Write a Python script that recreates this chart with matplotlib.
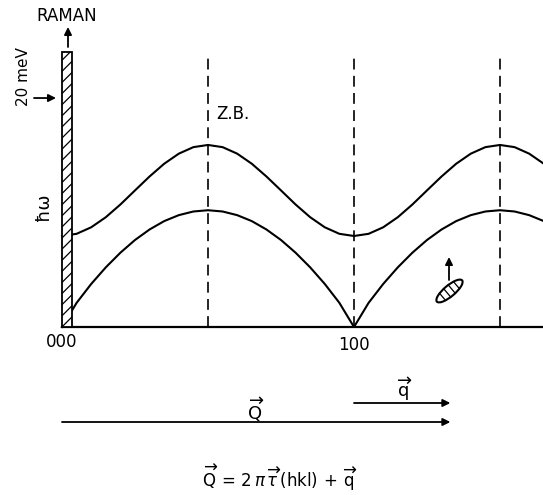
import numpy as np
import matplotlib
matplotlib.use('Agg')
import matplotlib.pyplot as plt
from matplotlib.patches import Rectangle, Ellipse
from matplotlib.transforms import blended_transform_factory

plt.rcParams['font.family'] = ['DejaVu Sans']
plt.rcParams['mathtext.fontset'] = 'dejavusans'
plt.rcParams['hatch.linewidth'] = 0.9

# wavevector along [h00], reciprocal lattice units
q_rlu = [0.00, 0.05, 0.10, 0.15, 0.20, 0.25, 0.30, 0.35, 0.40, 0.45, 0.50,
         0.55, 0.60, 0.65, 0.70, 0.75, 0.80, 0.85, 0.90, 0.95, 1.00,
         1.05, 1.10, 1.15, 1.20, 1.25, 1.30, 1.35, 1.40, 1.45, 1.50,
         1.55, 1.60, 1.65]

# phonon energies (meV)
acoustic_mev = [0.00, 2.11, 3.76, 5.21, 6.49, 7.60, 8.52, 9.25, 9.77, 10.09, 10.20,
                10.09, 9.77, 9.25, 8.52, 7.60, 6.49, 5.21, 3.76, 2.11, 0.00,
                2.11, 3.76, 5.21, 6.49, 7.60, 8.52, 9.25, 9.77, 10.09, 10.20,
                10.09, 9.77, 9.25]
optical_mev = [7.95, 8.14, 8.71, 9.59, 10.70, 11.93, 13.15, 14.26, 15.14, 15.71, 15.90,
               15.71, 15.14, 14.26, 13.15, 11.93, 10.70, 9.59, 8.71, 8.14, 7.95,
               8.14, 8.71, 9.59, 10.70, 11.93, 13.15, 14.26, 15.14, 15.71, 15.90,
               15.71, 15.14, 14.26]

zone_boundaries = [0.5, 1.0, 1.5]
zb_top_mev = 23.75
tau_h = 1.0          # reciprocal lattice point (100)
q_h = 0.33           # reduced wavevector of the measured phonon
raman_q = 0.034      # width of the region reached by Raman scattering
raman_top_mev = 24.0
ref_mev = 20.0

fig = plt.figure(figsize=(5.43, 4.95), dpi=100)

# physical axes: q in r.l.u., energy in meV
ax = fig.add_axes([0, 0, 1, 1])
ax.set_xlim(-0.2123, 1.6473)
ax.set_ylim(-14.67, 28.56)
ax.axis('off')

# overlay in pixel units for the lettering
ov = fig.add_axes([0, 0, 1, 1], zorder=3)
ov.set_xlim(0, 543)
ov.set_ylim(495, 0)
ov.axis('off')
ov.patch.set_alpha(0)

# dispersion branches
ax.plot(q_rlu, acoustic_mev, color='k', lw=1.5, zorder=2)
ax.plot(q_rlu, optical_mev, color='k', lw=1.5, zorder=2)

# q axis
ax.plot([0, 1.6473], [0, 0], color='k', lw=1.6, zorder=2)

# zone boundaries / reciprocal lattice points
for zb in zone_boundaries:
    ax.plot([zb, zb], [0, zb_top_mev], color='k', lw=1.2,
            ls=(0, (6.5, 3.8)), zorder=1)

# Raman window
ax.add_patch(Rectangle((0, 0), raman_q, raman_top_mev, facecolor='white',
                       edgecolor='k', lw=1.3, hatch='///', zorder=3))

arrow = dict(arrowstyle='-|>', color='k', lw=1.3, mutation_scale=11,
             shrinkA=0, shrinkB=0)

ov.annotate('', xy=(68, 27), xytext=(68, 47), arrowprops=arrow)
ov.text(67, 16, 'RAMAN', ha='center', va='center', fontsize=12)

# 20 meV marker
ref_y = blended_transform_factory(ov.transData, ax.transData)
ax.annotate('', xy=(56, ref_mev), xytext=(34, ref_mev),
            xycoords=ref_y, textcoords=ref_y, arrowprops=arrow)
ov.text(24, 77, '20 meV', ha='center', va='center', rotation=90, fontsize=11)

ov.text(44, 207, 'ħω', ha='center', va='center', rotation=90, fontsize=13)
ov.text(216, 114, 'Z.B.', ha='left', va='center', fontsize=12)

ov.text(62, 342, '000', ha='center', va='center', fontsize=12)
ov.text(354, 345, '100', ha='center', va='center', fontsize=12)

# scattering vectors
vec_y = blended_transform_factory(ax.transData, ov.transData)
ax.annotate('', xy=(tau_h + q_h, 422), xytext=(0, 422),
            xycoords=vec_y, textcoords=vec_y, arrowprops=arrow)
ax.annotate('', xy=(tau_h + q_h, 403), xytext=(tau_h, 403),
            xycoords=vec_y, textcoords=vec_y, arrowprops=arrow)
ov.text(256, 410, r'$\overrightarrow{\mathrm{Q}}$', ha='center', va='center',
        fontsize=13)
ov.text(405, 389, r'$\overrightarrow{\mathrm{q}}$', ha='center', va='center',
        fontsize=13)

ov.text(280, 478,
        r'$\overrightarrow{\mathrm{Q}}\,=\,2\,\pi\,\overrightarrow{\tau}\,'
        r'(\mathrm{hkl})\,+\,\overrightarrow{\mathrm{q}}$',
        ha='center', va='center', fontsize=12)

# resolution ellipse
cx, cy, a, b, ang = 449.5, 291.0, 16.5, 5.5, -40.0
ov.add_patch(Ellipse((cx, cy), 2 * a, 2 * b, angle=ang, fill=False,
                     edgecolor='k', lw=1.5))
th = np.radians(ang)
for t in [-0.55, -0.18, 0.18, 0.55]:
    s = b * np.sqrt(1 - t ** 2)
    xs = [cx + t * a * np.cos(th) - ss * np.sin(th) for ss in (-s, s)]
    ys = [cy + t * a * np.sin(th) + ss * np.cos(th) for ss in (-s, s)]
    ov.plot(xs, ys, color='k', lw=0.9)
ov.annotate('', xy=(449, 257), xytext=(449, 280), arrowprops=arrow)

fig.savefig('out.png', dpi=100)
